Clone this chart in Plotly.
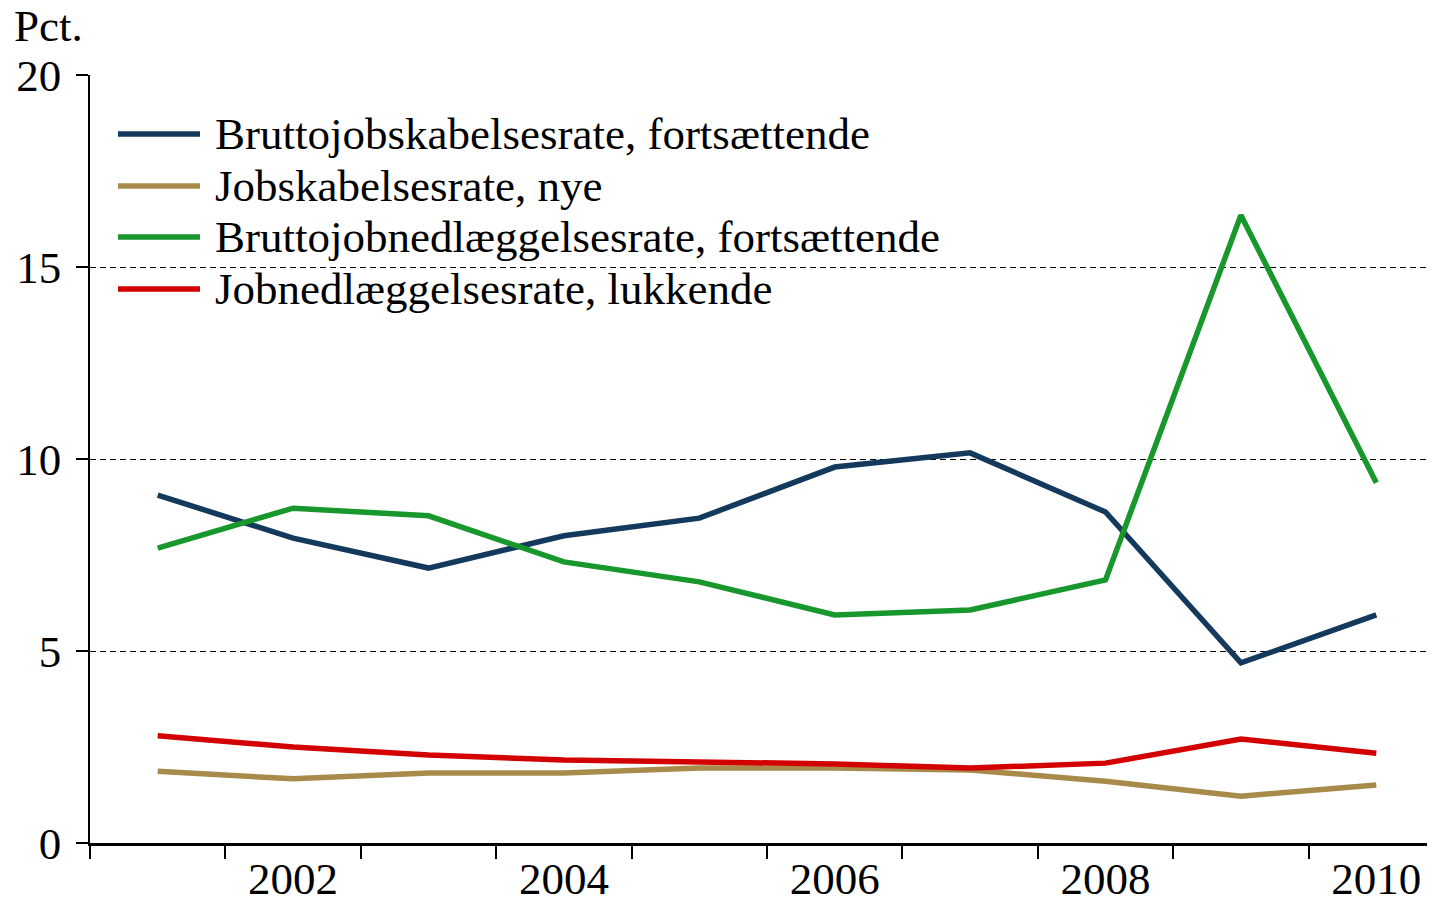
import plotly.graph_objects as go

# ---------- DATA ----------
years = [2001, 2002, 2003, 2004, 2005, 2006, 2007, 2008, 2009, 2010]

brutto_skab_forts = [9.06, 7.94, 7.16, 8.00, 8.46, 9.79, 10.16, 8.62, 4.69, 5.94]
skab_nye = [1.87, 1.67, 1.82, 1.82, 1.95, 1.95, 1.90, 1.61, 1.22, 1.51]
brutto_nedl_forts = [7.68, 8.72, 8.52, 7.32, 6.80, 5.94, 6.07, 6.85, 16.35, 9.38]
nedl_lukkende = [2.79, 2.50, 2.29, 2.16, 2.11, 2.06, 1.95, 2.08, 2.71, 2.34]

series_names = [
    "Bruttojobskabelsesrate, fortsættende",
    "Jobskabelsesrate, nye",
    "Bruttojobnedlæggelsesrate, fortsættende",
    "Jobnedlæggelsesrate, lukkende",
]
series_values = [brutto_skab_forts, skab_nye, brutto_nedl_forts, nedl_lukkende]
series_colors = ["#13395c", "#a88a4a", "#18982c", "#d20000"]

year_labels = [2002, 2004, 2006, 2008, 2010]
y_ticks = [0, 5, 10, 15, 20]

# ---------- LAYOUT CONSTANTS ----------
# page body has an 8px margin; size the figure so the page doesn't scroll
OFF = 8
W, H = 1435 - OFF, 904 - 2 * OFF
ML, MR, MT, MB = 90 - OFF, 0, 75 - OFF, H - (843 - OFF)
FONT = "Liberation Serif, Times New Roman, serif"
FS = 45
LW = 5.5
PX_PER_YEAR = 135.4


def px_x(p):
    # screen pixel -> paper x
    return (p - OFF - ML) / (W - ML - MR)


def px_y(p):
    # screen pixel -> paper y
    return (H - MB - (p - OFF)) / (H - MT - MB)


fig = go.Figure()
for name, vals, col in zip(series_names, series_values, series_colors):
    fig.add_trace(go.Scatter(x=years, y=vals, name=name, mode="lines",
                             line=dict(color=col, width=LW), showlegend=False))

# hand-drawn legend (long line samples like the original)
fig.add_shape(type="rect", xref="paper", yref="paper", layer="between",
              x0=px_x(102), x1=px_x(952), y0=px_y(312), y1=px_y(100),
              fillcolor="white", line=dict(width=0))
row_y = [134, 186, 237, 289]
for name, col, ry in zip(series_names, series_colors, row_y):
    fig.add_shape(type="line", xref="paper", yref="paper",
                  x0=px_x(118), x1=px_x(200), y0=px_y(ry), y1=px_y(ry),
                  line=dict(color=col, width=LW))
    fig.add_annotation(xref="paper", yref="paper", x=px_x(213), y=px_y(ry),
                       text=name, showarrow=False, xanchor="left", yanchor="middle",
                       font=dict(family=FONT, size=FS, color="black"))

fig.add_annotation(xref="paper", yref="paper", x=px_x(12), y=px_y(53),
                   text="Pct.", showarrow=False, xanchor="left", yanchor="bottom",
                   font=dict(family=FONT, size=FS, color="black"))

x_end = 2000.5 + (W - ML - MR) / PX_PER_YEAR

fig.update_layout(
    width=W, height=H,
    margin=dict(l=ML, r=MR, t=MT, b=MB),
    plot_bgcolor="white", paper_bgcolor="white",
    font=dict(family=FONT, size=FS, color="black"),
    xaxis=dict(
        range=[2000.5, x_end], automargin=False,
        tickvals=year_labels, ticktext=[str(y) for y in year_labels],
        ticks="", showgrid=False, zeroline=False,
        ticklabelstandoff=-6,
        showline=True, linecolor="black", linewidth=2.5,
        tickfont=dict(family=FONT, size=FS),
        minor=dict(tickvals=[y - 0.5 for y in years] + [years[-1] + 0.5],
                   ticks="outside", ticklen=13, tickwidth=1.5, tickcolor="black",
                   showgrid=False),
    ),
    yaxis=dict(
        range=[0, 20], tickvals=y_ticks, automargin=False,
        ticks="outside", ticklen=12, tickwidth=1.5, tickcolor="black",
        ticklabelstandoff=6,
        showline=True, linecolor="black", linewidth=1.5,
        showgrid=True, gridcolor="black", gridwidth=1, griddash="6px,4px",
        zeroline=False,
        tickfont=dict(family=FONT, size=FS),
    ),
)

fig.write_html("out.html")
